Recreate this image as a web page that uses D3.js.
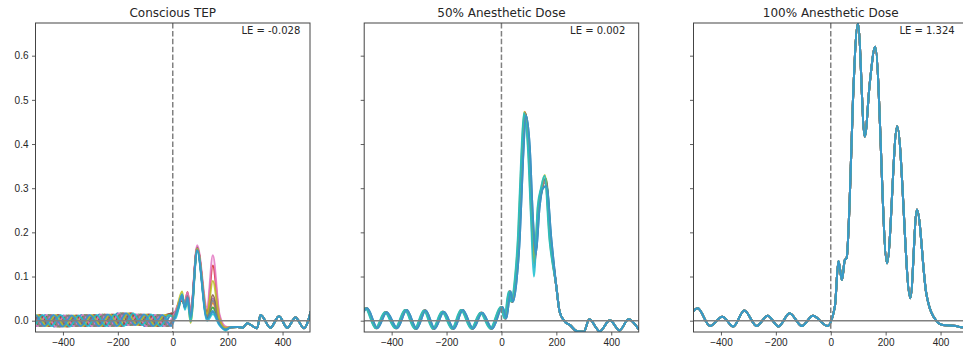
<!DOCTYPE html>
<head>
  <meta charset="utf-8">
  <script src="https://d3js.org/d3.v7.min.js"></script>
  <style>
    body { margin: 0; background: #fff; }
    svg { font-family: "DejaVu Sans", sans-serif; }
    .tick text { font-size: 10px; fill: #262626; }
    .tick line { stroke: #333; stroke-width: 0.8; }
    .title { font-size: 12px; fill: #262626; }
    .le { font-size: 10px; fill: #262626; }
  </style>
</head>
<body>
<div id="chart"></div>
<script>
// ---- data ----
var titles = ["Conscious TEP", "50% Anesthetic Dose", "100% Anesthetic Dose"];
var leLabels = ["LE = -0.028", "LE = 0.002", "LE = 1.324"];
var xTicks = [-400, -200, 0, 200, 400];
var yTicks = [0, 0.1, 0.2, 0.3, 0.4, 0.5, 0.6];

// trace colours, drawn in this order (the last one ends up on top)
var traceColors = ["#1f77b4", "#ff7f0e", "#2ca02c", "#d62728", "#9467bd",
                   "#8c564b", "#e377c2", "#7f7f7f", "#bcbd22", "#17becf", "#3a96c9"];

// panel 1: pre-stimulus oscillation (same shape, different phase per trace)
var pre1T = [-597, -564, -531, -498, -465, -432, -399, -366, -333, -300, -267, -234, -201, -168, -135, -102, -69, -36, -3];
var pre1V = [.013, -.012, .013, -.012, .013, -.013, .012, -.012, .013, -.012, .014, -.012, .017, -.010, .014, -.012, .013, -.012, .015];
var lag1 = [0, 20, 12, 50, 25, 45, 6, 18, 38, 56, 31];
var post1T = [10, 22, 34, 44, 54, 65, 89, 125, 146, 170, 192];
var post1V = [
  [.015, .035, .058, .030, .055, .010, .160, .005, .020, -.008, -.020],
  [.020, .040, .050, .035, .060, .015, .165, .010, .040, -.005, -.018],
  [.010, .030, .055, .030, .050, .005, .163, .008, .030, -.006, -.019],
  [.020, .040, .045, .040, .065, .018, .166, .020, .125, .010, -.015],
  [.015, .038, .050, .035, .058, .012, .165, .012, .050, -.002, -.017],
  [.018, .036, .052, .032, .060, .012, .165, .015, .058, .000, -.017],
  [.022, .042, .048, .042, .064, .020, .171, .030, .148, .015, -.013],
  [.016, .035, .055, .033, .056, .010, .164, .010, .045, -.003, -.018],
  [.010, .045, .066, .030, .045, -.005, .163, .015, .090, .005, -.016],
  [.005, .030, .060, .025, .045, -.002, .158, .000, .015, -.010, -.022],
  [.012, .035, .058, .030, .052, .008, .160, .004, .022, -.008, -.020]
];
var tail1T = [212, 235, 255, 271, 307, 320, 356, 387, 417, 447, 478, 505];
var tail1V = [-.015, -.014, -.016, -.006, -.017, .013, -.016, .010, -.016, .007, -.017, .026];

// panel 2
var base2T = [-525, -489, -452, -418, -380, -345, -309, -276, -243, -210, -173, -141, -103, -70, -34,
              4, 18, 33, 42, 55, 67, 79, 89, 103, 115, 125, 139, 151, 164, 182, 200, 212, 228,
              250, 275, 300, 320, 358, 395, 430, 463, 500];
var base2V = [-.017, .028, -.017, .019, -.017, .024, -.018, .023, -.018, .020, -.018, .024, -.018, .018, -.018,
              .031, .005, .066, .043, .090, .190, .370, .473, .394, .228, .145, .258, .300, .325, .183, .077, .020, .000,
              -.010, -.024, -.025, .003, -.024, .001, -.022, .003, -.020];
var lag2 = [0, -3, -2, -4, -3, -4, -5, -4, -6, -7, 0];
var peak2a = [.465, .472, .470, .472, .470, .471, .470, .471, .473, .470, .465];   // t = 89
var trough2 = [.150, .140, .145, .130, .140, .140, .120, .140, .130, .100, .150];  // t = 125
var peak2b = [.305, .320, .322, .318, .320, .318, .315, .320, .330, .328, .305];   // t = 164

// panel 3 (all traces coincide)
var base3T = [-530, -485, -440, -395, -355, -315, -270, -230, -190, -150, -105, -65, -12,
              15, 28, 41, 51, 58, 69, 81, 99, 124, 142, 162, 205, 242, 290, 314, 348, 384, 408, 457, 475, 500, 520];
var base3V = [-.012, .028, -.012, .009, -.013, .023, -.012, .011, -.013, .017, -.012, .011, -.012,
              .032, .135, .092, .137, .142, .273, .500, .673, .417, .537, .620, .130, .440, .051, .252, .062, .000, -.010, -.012, -.015, -.012, -.005];

// ---- build traces ----
function panel1(k) {
  var pts = [];
  pre1T.forEach(function(t, i) { if (t + lag1[k] < 0) pts.push([t + lag1[k], pre1V[i]]); });
  post1T.forEach(function(t, i) { pts.push([t, post1V[k][i]]); });
  tail1T.forEach(function(t, i) { pts.push([t, tail1V[i]]); });
  return pts;
}
function panel2(k) {
  return base2T.map(function(t, i) {
    var v = base2V[i];
    if (t === 89) v = peak2a[k];
    if (t === 125) v = trough2[k];
    if (t === 164) v = peak2b[k];
    return [t < 200 ? t + lag2[k] : t, v];
  });
}
function panel3() {
  return base3T.map(function(t, i) { return [t, base3V[i]]; });
}

var traces = [
  traceColors.map(function(c, k) { return panel1(k); }),
  traceColors.map(function(c, k) { return panel2(k); }),
  traceColors.map(function() { return panel3(); })
];

// ---- layout ----
var width = 963, height = 358;
var lefts = [35.5, 364.2, 693.5], marginTop = 23, pw = 274.5, ph = 309;

var svg = d3.select("#chart").append("svg")
  .attr("width", width)
  .attr("height", height);

var x = d3.scaleLinear().domain([-500, 500]).range([0, pw]);
var y = d3.scaleLinear().domain([-0.0256, 0.674]).range([ph, 0]);

var line = d3.line()
  .x(function(d) { return x(d[0]); })
  .y(function(d) { return y(d[1]); })
  .curve(d3.curveMonotoneX);

lefts.forEach(function(left, p) {
  var g = svg.append("g").attr("transform", "translate(" + left + "," + marginTop + ")");

  g.append("clipPath").attr("id", "clip" + p)
    .append("rect").attr("width", pw).attr("height", ph);

  var plot = g.append("g").attr("clip-path", "url(#clip" + p + ")");

  plot.selectAll("path.trace")
      .data(traces[p])
    .enter().append("path")
      .attr("class", "trace")
      .attr("d", line)
      .attr("fill", "none")
      .attr("stroke", function(d, k) { return traceColors[k]; })
      .attr("stroke-width", 2)
      .attr("stroke-opacity", function(d, k) { return k === traceColors.length - 1 ? 0.95 : 0.85; });

  plot.append("line")
    .attr("x1", 0).attr("x2", pw)
    .attr("y1", y(0)).attr("y2", y(0))
    .attr("stroke", "#808080").attr("stroke-width", 1.5);

  plot.append("line")
    .attr("x1", x(0)).attr("x2", x(0))
    .attr("y1", 0).attr("y2", ph)
    .attr("stroke", "#808080").attr("stroke-width", 1.5)
    .attr("stroke-dasharray", "5.5,2.4");

  var xAxis = d3.axisBottom(x).tickValues(xTicks).tickSize(3.5).tickPadding(3.5);
  var yAxis = d3.axisLeft(y).tickValues(yTicks).tickSize(3.5).tickPadding(3.5)
    .tickFormat(p === 0 ? d3.format(".1f") : "");

  g.append("g").attr("transform", "translate(0," + ph + ")").call(xAxis)
    .call(function(a) { a.select(".domain").remove(); });
  g.append("g").call(yAxis)
    .call(function(a) { a.select(".domain").remove(); });

  g.selectAll(".tick text").attr("font-family", null).attr("font-size", null);

  g.append("rect")
    .attr("width", pw).attr("height", ph)
    .attr("fill", "none").attr("stroke", "#444").attr("stroke-width", 1);

  g.append("text").attr("class", "title")
    .attr("x", pw / 2).attr("y", -6.5)
    .attr("text-anchor", "middle")
    .text(titles[p]);

  g.append("text").attr("class", "le")
    .attr("x", pw * 0.75).attr("y", 10.5)
    .text(leLabels[p]);
});
</script>
</body>
